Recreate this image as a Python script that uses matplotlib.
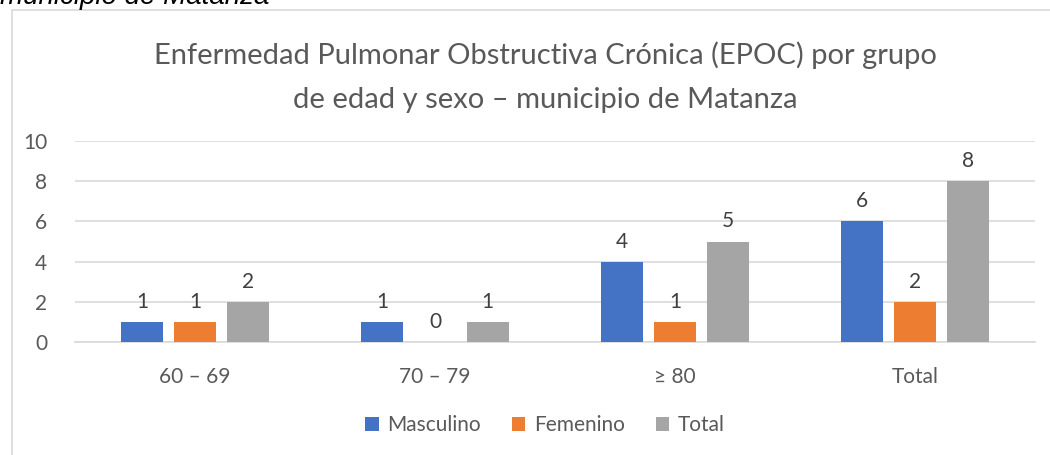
import matplotlib
matplotlib.use("Agg")
import matplotlib.pyplot as plt
from matplotlib.patches import Rectangle
import numpy as np

categories = ["60 – 69", "70 – 79", "≥ 80", "Total"]
masculino = [1, 1, 4, 6]
femenino = [1, 0, 1, 2]
total = [2, 1, 5, 8]
series_names = ["Masculino", "Femenino", "Total"]
colors = ["#4472C4", "#ED7D31", "#A5A5A5"]
yticks = [0, 2, 4, 6, 8, 10]

FONT = ["Lato", "DejaVu Sans"]
plt.rcParams['font.family'] = FONT

W, H = 1050, 455
fig = plt.figure(figsize=(W / 100, H / 100), dpi=100)

# chart frame
fig.patches.append(Rectangle((12 / W, -0.1), 1.2, (H - 10) / H + 0.1,
                             transform=fig.transFigure, fill=False,
                             edgecolor="#D9D9D9", linewidth=1.2))

# cut-off caption at top
fig.text(0 / W, 1 - 4 / H, "municipio de Matanza", family="Liberation Sans",
         style="italic", fontsize=20, color="black", ha="left", va="baseline")

ax = fig.add_axes([75 / W, (H - 342) / H, 960 / W, 201 / H])
x = np.arange(len(categories))
bw = 0.175
step = 0.22
for i, (vals, name, c) in enumerate(zip([masculino, femenino, total], series_names, colors)):
    pos = x + (i - 1) * step
    ax.bar(pos, vals, width=bw, color=c, label=name, zorder=3)
    for p, v in zip(pos, vals):
        ax.text(p, v + 0.5, str(v), ha="center", va="bottom", fontsize=15, color="#404040")

ax.set_xlim(-0.5, len(categories) - 0.5)
ax.set_ylim(0, 10)
ax.set_yticks(yticks)
ax.set_xticks(x)
ax.set_xticklabels(categories)
ax.grid(axis="y", color="#D9D9D9", linewidth=1.2, zorder=0)
for s in ["top", "right", "left"]:
    ax.spines[s].set_visible(False)
ax.spines["bottom"].set_color("#D9D9D9")
ax.spines["bottom"].set_linewidth(1.2)
ax.tick_params(axis="both", length=0, labelsize=15, labelcolor="#595959")
ax.tick_params(axis="y", pad=20)
ax.tick_params(axis="x", pad=18)

fig.text(545 / W, 1 - 55 / H, "Enfermedad Pulmonar Obstructiva Crónica (EPOC) por grupo",
         ha="center", va="center", fontsize=21, color="#595959")
fig.text(545 / W, 1 - 100 / H, "de edad y sexo – municipio de Matanza",
         ha="center", va="center", fontsize=21, color="#595959")

handles, labels = ax.get_legend_handles_labels()
fig.legend(handles, labels, loc="center", bbox_to_anchor=(545 / W, 1 - 425 / H),
           ncol=3, frameon=False, fontsize=15, handlelength=0.65, handleheight=0.65,
           columnspacing=1.5, handletextpad=0.4, labelcolor="#595959")

fig.savefig("out.png", dpi=100)
